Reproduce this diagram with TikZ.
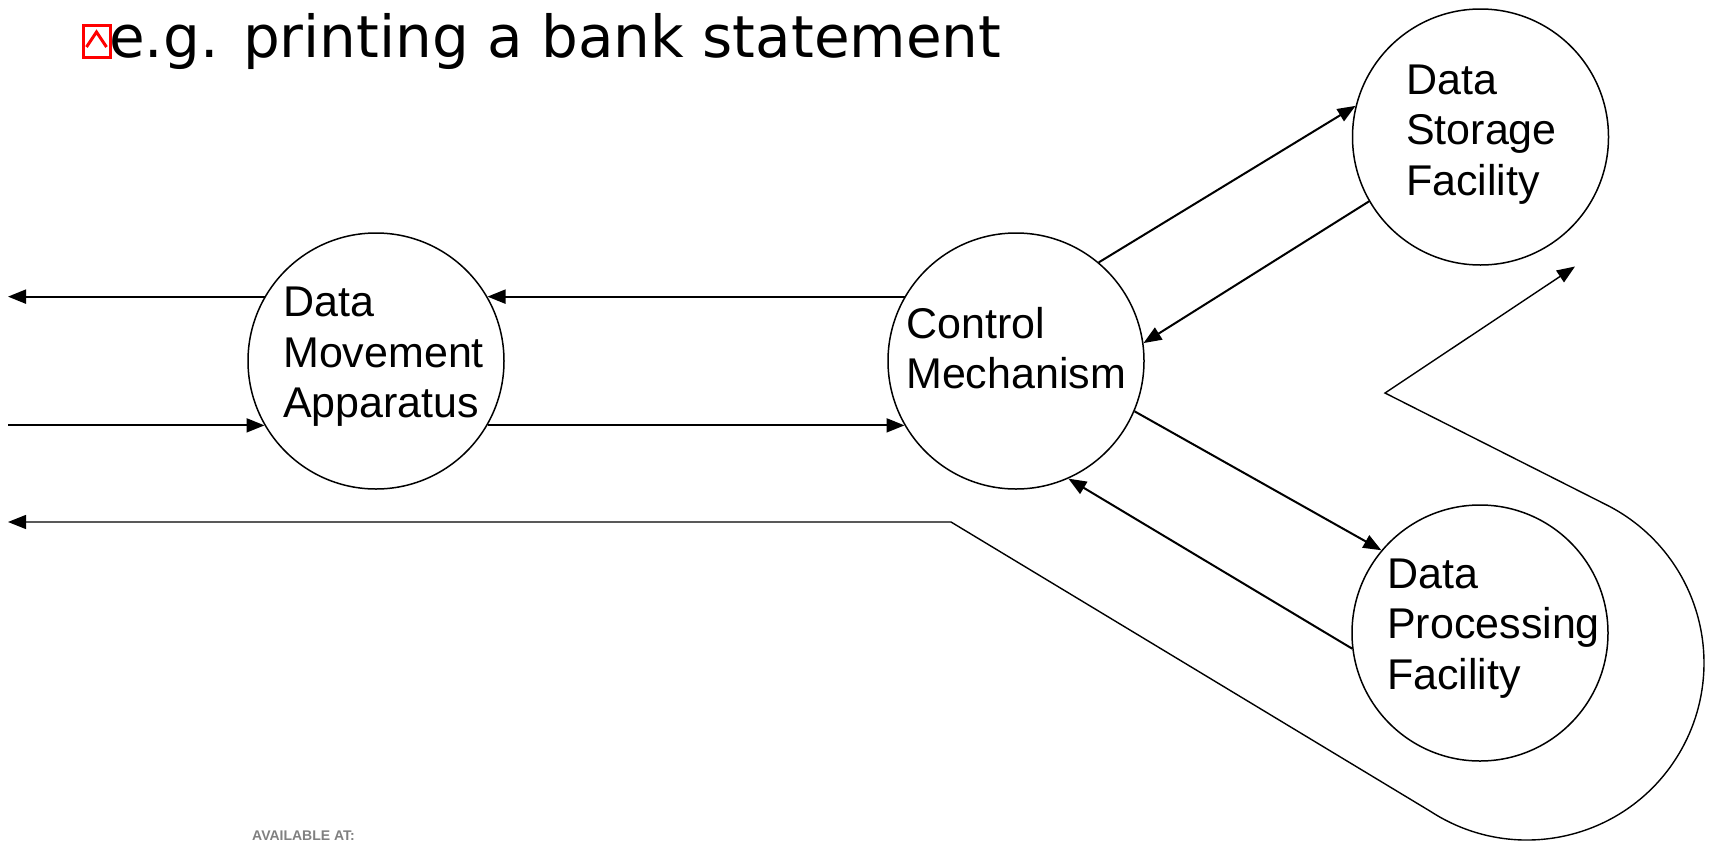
\documentclass[tikz,border=0pt]{standalone}
\usepackage{fontspec}
\setmainfont{Liberation Sans}
\newfontfamily\titlefont{DejaVu Sans}
\usetikzlibrary{arrows.meta,calc}
\begin{document}
\begin{tikzpicture}[x=1pt,y=-1pt,
  proc/.style={circle, draw, line width=1.5pt, minimum size=256pt, inner sep=0pt},
  lbl/.style={anchor=base west, inner sep=0pt, font=\fontsize{43}{50.5}\selectfont},
  flow/.style={line width=2pt, -{Triangle[length=18pt,width=14pt]}},
  loopline/.style={line width=1.4pt, {Triangle[length=18pt,width=14pt]}-{Triangle[length=18pt,width=14pt]}},
]
\useasboundingbox (0,0) rectangle (1711,841);

% title
\draw[red, line width=3pt] (83,25) rectangle (110,57);
\draw[red, line width=3pt] (86.5,47) -- (96.5,32) -- (106.5,47);
\node[anchor=base west, inner sep=0pt, font=\titlefont\fontsize{58}{60}\selectfont] (title) at (109,57) {e.g. printing a bank statement};

% processes
\node[proc] (dma) at (376,361) {};
\node[proc] (cm)  at (1016,361) {};
\node[proc] (dsf) at (1480.5,137) {};
\node[proc] (dpf) at (1480,633) {};

\node[lbl] (dmaT) at (283,316.7) {\parbox[t]{300pt}{Data\\Movement\\Apparatus}};
\node[lbl] (cmT)  at (906,338.3) {\parbox[t]{300pt}{Control\\Mechanism}};
\node[lbl] (dsfT) at (1406,94.3) {\parbox[t]{300pt}{Data\\Storage\\Facility}};
\node[lbl] (dpfT) at (1387,588.3) {\parbox[t]{300pt}{Data\\Processing\\Facility}};

% free ends
\coordinate (lft) at (8,0);
\coordinate (corner) at (951,522);
\coordinate (arcC) at (1527,663);
\coordinate (vtx) at (1385,393);
\coordinate (tipR) at (1575,266.5);

% connectors
\draw[flow] (dma.150) -- (dma.150 -| lft);
\draw[flow] (lft |- dma.210) -- (dma.210);
\draw[flow] (cm.150) -- (dma.30);
\draw[flow] (dma.-30) -- (cm.210);
\draw[flow] (cm.50) -- (dsf.166);
\draw[flow] (dsf.210) -- (cm.8);
\draw[flow] (cm.-23) -- (dpf.140);
\draw[flow] (dpf.187) -- (cm.-66);

\draw[loopline] (lft |- corner) -- (corner) -- ($(arcC)+(123:177)$)
  arc[start angle=123, end angle=-63.5, radius=177] -- (vtx) -- (tipR);

\node[anchor=base west, inner sep=0pt, text=black!50, font=\bfseries\fontsize{14}{16}\selectfont] (avail) at (252,840.5) {AVAILABLE AT:};
\end{tikzpicture}
\end{document}
